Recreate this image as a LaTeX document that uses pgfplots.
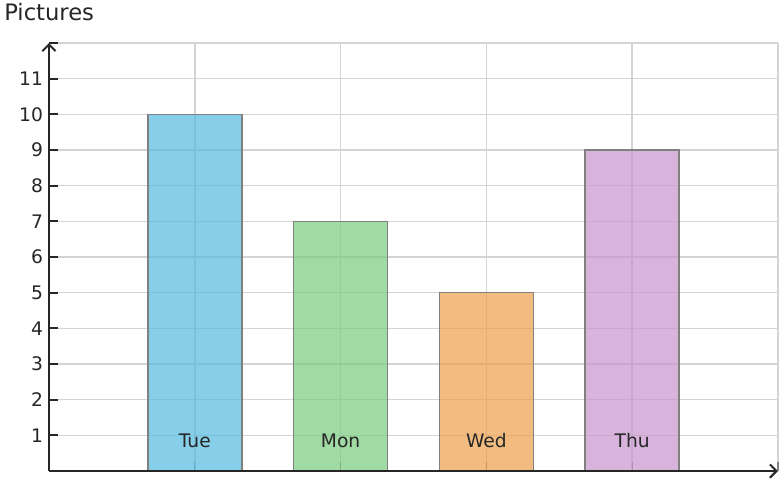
\documentclass[border=0pt]{standalone}
\usepackage{pgfplots}
\pgfplotsset{compat=1.18}
\usepackage{fontspec}
\setmainfont{DejaVu Sans}
\usetikzlibrary{arrows.meta}
\definecolor{cTue}{RGB}{84,186,224}
\definecolor{cMon}{RGB}{121,204,125}
\definecolor{cWed}{RGB}{236,159,76}
\definecolor{cThu}{RGB}{199,148,205}
\definecolor{gridc}{RGB}{212,212,212}
\begin{document}
\begin{tikzpicture}
\useasboundingbox (-36.75pt,-6.75pt) rectangle (549pt,353.25pt);
\begin{axis}[
  at={(0,0)}, anchor=origin,
  scale only axis,
  width=546.75pt, height=321pt,
  xmin=0, xmax=5, ymin=0, ymax=12,
  axis lines=left,
  axis line style={line width=1.9pt, draw=black!85, -{Straight Barb[length=5pt,width=10pt,line width=1.5pt]}},
  xtick={1,2,3,4}, xticklabels={},
  ytick={1,...,11},
  extra x ticks={5}, extra y ticks={12},
  extra x tick labels={}, extra y tick labels={},
  extra tick style={grid=major, tick style={draw=none}},
  grid=major,
  major grid style={draw=gridc, line width=1.2pt},
  tick align=inside,
  major tick length=6.75pt,
  y tick style={line width=1.5pt, draw=black!85},
  x tick style={line width=0.8pt, draw=gray},
  tick label style={font=\fontsize{14}{17}\selectfont, text=black!85},
  yticklabel style={xshift=-1pt},
  /pgf/number format/assume math mode=true,
  clip=false,
]
\addplot[ybar, bar shift=0pt, bar width=70.5pt, fill=cTue, fill opacity=0.7, draw=gray, line width=1.1pt] coordinates {(1,10)};
\addplot[ybar, bar shift=0pt, bar width=70.5pt, fill=cMon, fill opacity=0.7, draw=gray, line width=1.1pt] coordinates {(2,7)};
\addplot[ybar, bar shift=0pt, bar width=70.5pt, fill=cWed, fill opacity=0.7, draw=gray, line width=1.1pt] coordinates {(3,5)};
\addplot[ybar, bar shift=0pt, bar width=70.5pt, fill=cThu, fill opacity=0.7, draw=gray, line width=1.1pt] coordinates {(4,9)};
\draw[line width=1.9pt, black!85] (axis cs:0,0) -- (axis cs:4.5,0);
\node[font=\fontsize{14}{17}\selectfont, text=black!85] at (axis cs:1,0.85) {Tue};
\node[font=\fontsize{14}{17}\selectfont, text=black!85] at (axis cs:2,0.85) {Mon};
\node[font=\fontsize{14}{17}\selectfont, text=black!85] at (axis cs:3,0.85) {Wed};
\node[font=\fontsize{14}{17}\selectfont, text=black!85] at (axis cs:4,0.85) {Thu};
\end{axis}
\node[anchor=base west, font=\fontsize{17}{20}\selectfont, text=black!85, inner sep=0pt] at (-33.75pt,338.25pt) {Pictures};
\end{tikzpicture}
\end{document}
